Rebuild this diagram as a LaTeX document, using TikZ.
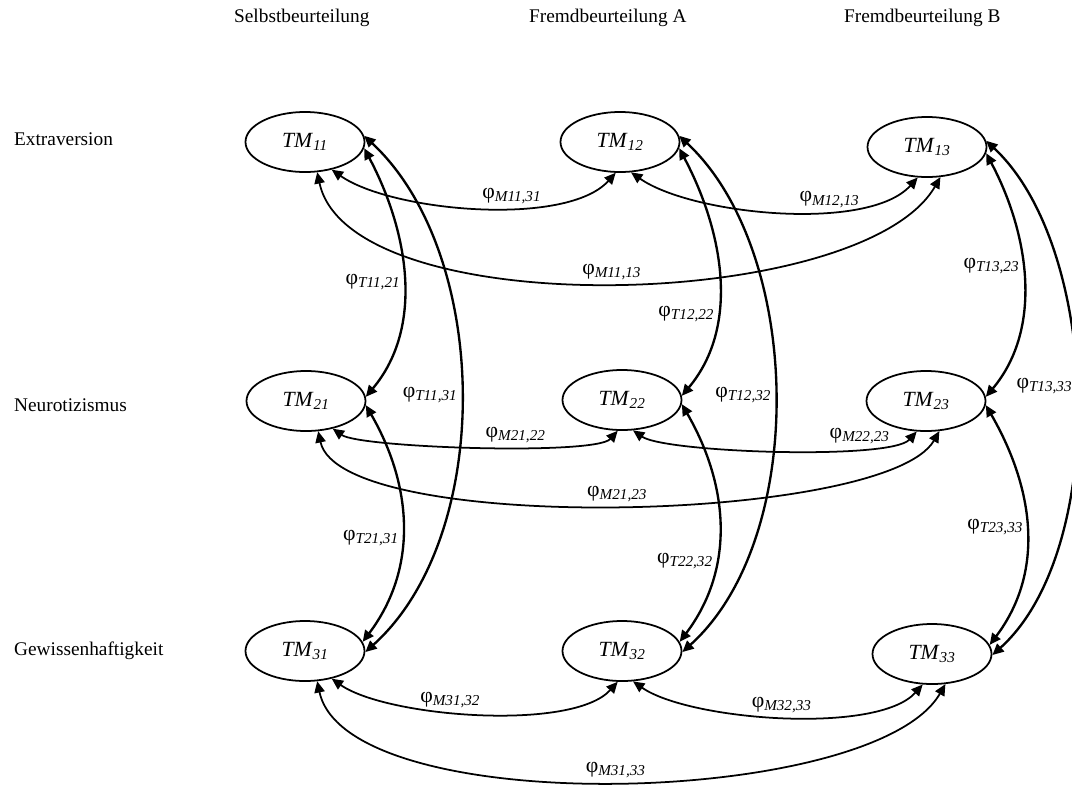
\documentclass[tikz,border=0pt]{standalone}
\usepackage{fontspec}
\setmainfont{Liberation Serif}
\usetikzlibrary{arrows.meta, shapes.geometric}
\newcommand{\tmlabel}[1]{\textit{TM}\textsubscript{\textit{#1}}}
\newcommand{\corr}[1]{φ\textsubscript{\textit{#1}}}
\tikzset{
  trait/.style={draw, ellipse, line width=1.5pt, minimum width=3.57cm, minimum height=1.8cm, inner sep=0pt,
    font=\fontsize{18.5}{21}\selectfont},
  cov/.style={{Triangle[length=3.4mm, width=3.1mm]}-{Triangle[length=3.4mm, width=3.1mm]}, line width=1.5pt},
  tcov/.style={cov, line width=2pt},
  lbl/.style={font=\fontsize{18.5}{21}\selectfont, inner sep=2pt},
  head/.style={anchor=west},
}

\begin{document}
\begin{tikzpicture}[x=0.03cm, y=0.03cm, font=\fontsize{16.5}{19}\selectfont]
    \useasboundingbox (0,0) rectangle (1072,-785);
    % Spalten und Zeilen
    \node[head] (self) at (230,-18) {Selbstbeurteilung};
    \node[head] (fremdA) at (525,-18) {Fremdbeurteilung A};
    \node[head] (fremdB) at (840,-18) {Fremdbeurteilung B};
    \node[head] (extra) at (10,-139) {Extraversion};
    \node[head] (neuro) at (10,-405) {Neurotizismus};
    \node[head] (gewiss) at (10,-651) {Gewissenhaftigkeit};
    % Trait-Methoden-Einheiten
    \node[trait] (TM11) at (305,-142) {\tmlabel{11}};
    \node[trait] (TM12) at (620,-142) {\tmlabel{12}};
    \node[trait] (TM13) at (927,-147) {\tmlabel{13}};
    \node[trait] (TM21) at (306,-401) {\tmlabel{21}};
    \node[trait] (TM22) at (622,-400) {\tmlabel{22}};
    \node[trait] (TM23) at (926,-401) {\tmlabel{23}};
    \node[trait] (TM31) at (305,-651) {\tmlabel{31}};
    \node[trait] (TM32) at (622,-651) {\tmlabel{32}};
    \node[trait] (TM33) at (932,-654) {\tmlabel{33}};
    % Methodenkorrelationen
    \draw[cov] (TM11.-46) to[out=-35, in=-132, looseness=.66] node[lbl, above, pos=.6] (m1) {\corr{M11,31}} (TM12.-98);
    \draw[cov] (TM12.-70) to[out=-35, in=-132, looseness=.66] node[lbl, above, pos=.65] (m2) {\corr{M12,13}} (TM13.-107);
    \draw[cov] (TM11.-68) to[out=-78, in=-120, looseness=.64] node[lbl, above, pos=.5] (m3) {\corr{M11,13}} (TM13.-66);
    \draw[cov] (TM21.-46) to[out=-35, in=-132, looseness=.3] node[lbl, above, pos=.6] (m4) {\corr{M21,22}} (TM22.-98);
    \draw[cov] (TM22.-70) to[out=-35, in=-132, looseness=.35] node[lbl, above, pos=.73] (m5) {\corr{M22,23}} (TM23.-107);
    \draw[cov] (TM21.-68) to[out=-78, in=-120, looseness=.44] node[lbl, above, pos=.5] (m6) {\corr{M21,23}} (TM23.-66);
    \draw[cov] (TM31.-46) to[out=-35, in=-132, looseness=.6] node[lbl, above, pos=.42] (m7) {\corr{M31,32}} (TM32.-98);
    \draw[cov] (TM32.-70) to[out=-35, in=-132, looseness=.6] node[lbl, above, pos=.5] (m8) {\corr{M32,33}} (TM33.-107);
    \draw[cov] (TM31.-68) to[out=-78, in=-120, looseness=.58] node[lbl, above, pos=.5] (m9) {\corr{M31,33}} (TM33.-66);
    % Traitkorrelationen
    \draw[tcov] (TM11.-6) to[out=-62, in=50, looseness=.95] node[lbl, left, pos=.52] (t1) {\corr{T11,21}} (TM21.4);
    \draw[tcov] (TM11.6) to[out=-43, in=42, looseness=.86] node[lbl, left, pos=.5] (t2) {\corr{T11,31}} (TM31.-1);
    \draw[tcov] (TM21.-4) to[out=-60, in=53] node[lbl, left, pos=.55] (t3) {\corr{T21,31}} (TM31.9);
    \draw[tcov] (TM12.-6) to[out=-62, in=50, looseness=.95] node[lbl, left, pos=.65] (t4) {\corr{T12,22}} (TM22.4);
    \draw[tcov] (TM12.6) to[out=-43, in=42, looseness=.84] node[lbl, left, pos=.5] (t5) {\corr{T12,32}} (TM32.-1);
    \draw[tcov] (TM22.-4) to[out=-60, in=53] node[lbl, left, pos=.65] (t6) {\corr{T22,32}} (TM32.9);
    \draw[tcov] (TM13.-6) to[out=-62, in=50, looseness=.95] node[lbl, left, pos=.45] (t7) {\corr{T13,23}} (TM23.4);
    \draw[tcov] (TM13.6) to[out=-43, in=42, looseness=.78] node[lbl, left, pos=.48] (t8) {\corr{T13,33}} (TM33.-1);
    \draw[tcov] (TM23.-4) to[out=-60, in=53] node[lbl, left, pos=.5] (t9) {\corr{T23,33}} (TM33.9);
\end{tikzpicture}
\end{document}
